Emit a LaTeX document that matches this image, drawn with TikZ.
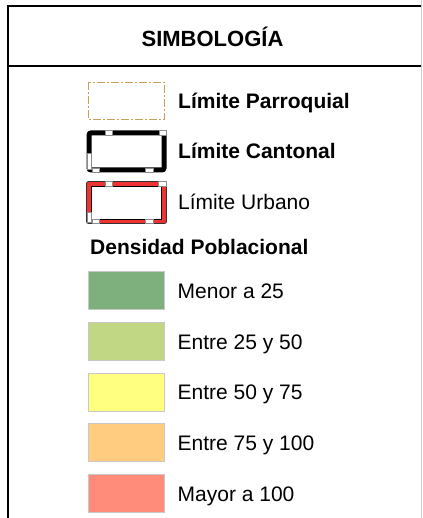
\documentclass[tikz,border=0pt]{standalone}
\usepackage{fontspec}
\setmainfont{Liberation Sans}
\definecolor{parr}{RGB}{200,160,90}
\definecolor{urb}{RGB}{240,50,50}
\definecolor{dA}{RGB}{125,176,125}
\definecolor{dB}{RGB}{194,215,132}
\definecolor{dC}{RGB}{255,255,128}
\definecolor{dD}{RGB}{255,204,128}
\definecolor{dE}{RGB}{255,140,122}
\definecolor{swb}{RGB}{200,200,200}
\tikzset{
  lbl/.style={anchor=base west,inner sep=0pt,font=\fontsize{21}{24}\selectfont},
  blbl/.style={lbl,font=\fontsize{21}{24}\selectfont\bfseries},
  swatch/.style={draw=swb,line width=0.8pt},
  gapmark/.style={fill=white,draw=black!45,line width=0.4pt},
}
\begin{document}
\begin{tikzpicture}[x=1pt,y=-1pt]
\useasboundingbox (0,0) rectangle (422,518);
% frame
\draw[black!20,line width=1pt] (421.3,0) -- (421.3,518);
\draw[line width=2pt] (8,518) -- (8,6) -- (421,6);
\draw[line width=2pt] (8,66) -- (421,66);
\node[anchor=base,inner sep=0pt,font=\fontsize{22}{26}\selectfont\bfseries] (title) at (212.5,47) {SIMBOLOGÍA};
% parroquial
\draw[parr,line width=1pt,dash pattern=on 8pt off 2pt on 2pt off 2pt] (88.5,82.5) rectangle (164,120);
\node[blbl] (lp) at (178,109) {Límite Parroquial};
% cantonal
\draw[line width=5pt,rounded corners=2pt] (89,133) rectangle (164,170);
\foreach \a/\b/\c/\d in {104.7/130.5/112.3/135.3, 158.7/130.5/166/135.3, 86.7/153/90.7/169, 92/168/99.3/172.5, 145.3/168/152.7/172.5}
  \draw[gapmark] (\a,\b) rectangle (\c,\d);
\node[blbl] (lc) at (178,159) {Límite Cantonal};
% urbano
\draw[fill=urb,draw=black!80,line width=0.8pt,rounded corners=2pt] (86.5,181.5) rectangle (166.5,223.5);
\draw[fill=white,draw=black,line width=0.8pt] (91.7,186) rectangle (161.7,219);
\foreach \a/\b/\c/\d in {105/181.7/112/186, 158/181.7/166/186, 86.7/212.7/90.7/222.7, 91.7/219/99.3/223.3, 145/219/152.7/223.3}
  \draw[gapmark] (\a,\b) rectangle (\c,\d);
\node[lbl] (lu) at (178,209.5) {Límite Urbano};
% densidad
\node[blbl] (dp) at (90,254.5) {Densidad Poblacional};
\draw[swatch,fill=dA] (88.3,271) rectangle (164,309);
\node[lbl] (l1) at (177.5,298) {Menor a 25};
\draw[swatch,fill=dB] (88.3,322) rectangle (164,360);
\node[lbl] (l2) at (177.5,349) {Entre 25 y 50};
\draw[swatch,fill=dC] (88.3,373) rectangle (164,411);
\node[lbl] (l3) at (177.5,399.5) {Entre 50 y 75};
\draw[swatch,fill=dD] (88.3,423.5) rectangle (164,461.5);
\node[lbl] (l4) at (177.5,450) {Entre 75 y 100};
\draw[swatch,fill=dE] (88.3,474.5) rectangle (164,512);
\node[lbl] (l5) at (177.5,501.5) {Mayor a 100};
\end{tikzpicture}
\end{document}
